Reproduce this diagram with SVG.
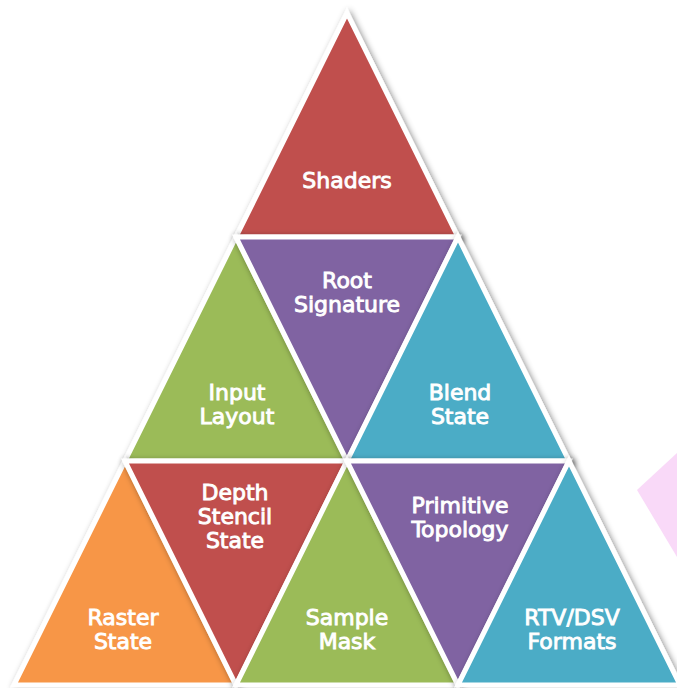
<svg xmlns="http://www.w3.org/2000/svg" width="677" height="688" viewBox="0 0 677 688">
  <defs>
    <filter id="shadow" x="-20%" y="-20%" width="140%" height="140%">
      <feDropShadow dx="2" dy="2" stdDeviation="3" flood-color="#000" flood-opacity="0.45"/>
    </filter>
  </defs>
  <style>
    .tri { stroke: #ffffff; stroke-width: 5; stroke-linejoin: miter; filter: url(#shadow); }
    .red { fill: #c0504d; }
    .green { fill: #9bbb59; }
    .purple { fill: #8064a2; }
    .teal { fill: #4bacc6; }
    .orange { fill: #f79646; }
    .lbl { font-family: "DejaVu Sans", Verdana, sans-serif; font-size: 22px; fill: #ffffff; stroke: #ffffff; stroke-width: 0.9; text-anchor: middle; }
  </style>

  <rect width="677" height="688" fill="#ffffff"/>

  <!-- decorative pink shape at the right edge -->
  <polygon points="637,490 677,453 677,557" fill="#f9d9f8"/>

  <!-- row 1 -->
  <g id="shaders">
    <polygon class="tri red" points="347,13 458,237 236,237"/>
    <text class="lbl" x="347" y="188">Shaders</text>
  </g>

  <!-- row 2 -->
  <g id="input-layout">
    <polygon class="tri green" points="236,237 347,461 125,461"/>
    <text class="lbl" x="237" y="400">Input</text>
    <text class="lbl" x="237" y="424">Layout</text>
  </g>
  <g id="root-signature">
    <polygon class="tri purple" points="236,237 458,237 347,461"/>
    <text class="lbl" x="347" y="288">Root</text>
    <text class="lbl" x="347" y="312">Signature</text>
  </g>
  <g id="blend-state">
    <polygon class="tri teal" points="458,237 569,461 347,461"/>
    <text class="lbl" x="460" y="400">Blend</text>
    <text class="lbl" x="460" y="424">State</text>
  </g>

  <!-- row 3 -->
  <g id="raster-state">
    <polygon class="tri orange" points="125,461 236,685 14,685"/>
    <text class="lbl" x="123" y="625">Raster</text>
    <text class="lbl" x="123" y="649">State</text>
  </g>
  <g id="depth-stencil-state">
    <polygon class="tri red" points="125,461 347,461 236,685"/>
    <text class="lbl" x="235" y="500">Depth</text>
    <text class="lbl" x="235" y="524">Stencil</text>
    <text class="lbl" x="235" y="548">State</text>
  </g>
  <g id="sample-mask">
    <polygon class="tri green" points="347,461 458,685 236,685"/>
    <text class="lbl" x="347" y="625">Sample</text>
    <text class="lbl" x="347" y="649">Mask</text>
  </g>
  <g id="primitive-topology">
    <polygon class="tri purple" points="347,461 569,461 458,685"/>
    <text class="lbl" x="460" y="513">Primitive</text>
    <text class="lbl" x="460" y="537">Topology</text>
  </g>
  <g id="rtv-dsv-formats">
    <polygon class="tri teal" points="569,461 680,685 458,685"/>
    <text class="lbl" x="572" y="625">RTV/DSV</text>
    <text class="lbl" x="572" y="649">Formats</text>
  </g>

  <!-- no connectors in this diagram -->
  <g id="connectors"/>
</svg>
